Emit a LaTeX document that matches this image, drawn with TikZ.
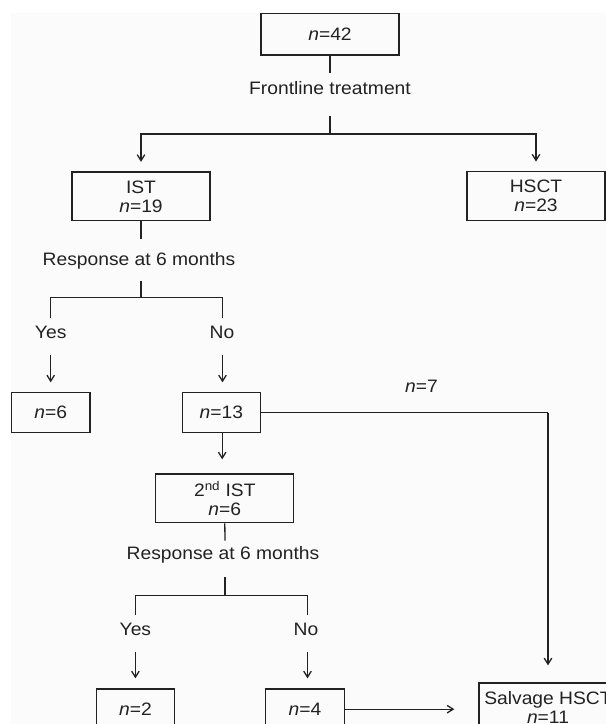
\documentclass[tikz,border=0pt]{standalone}
\usepackage{fontspec}
\setmainfont[FakeStretch=1.07]{Liberation Sans}
\usetikzlibrary{arrows.meta}
\definecolor{ink}{HTML}{222222}
\definecolor{bgc}{HTML}{FBFBFB}
\begin{document}
\begin{tikzpicture}[x=1pt,y=-1pt,
  every node/.style={font=\fontsize{18}{19}\selectfont, text=ink},
  bx/.style={draw=ink, line width=1.3pt, align=center, inner sep=0pt},
  bx1/.style={bx, minimum width=78.5pt, minimum height=40.4pt},
  bx2/.style={bx, minimum width=138pt, minimum height=48.6pt},
  lbl/.style={inner sep=0pt, text height=0.716em, text depth=0pt},
  ln/.style={draw=ink, line width=1.3pt},
  arr/.style={ln, -{Straight Barb[length=6pt,width=7.5pt]}}]
\useasboundingbox (0,0) rectangle (606,724);
\clip (0,0) rectangle (606,724);
\fill[white] (0,0) rectangle (606,724);
\fill[bgc] (11,13) rectangle (606,724);

% boxes
\node[bx, minimum width=138pt, minimum height=41.7pt] (n42) at (330,34.2) {\textit{n}=42};
\node[bx2] (ist) at (141,196.3) {IST\\\textit{n}=19};
\node[bx2] (hsct) at (536,196) {HSCT\\\textit{n}=23};
\node[bx1] (n6) at (50.8,412.5) {\textit{n}=6};
\node[bx1] (n13) at (221.4,412.5) {\textit{n}=13};
\node[bx2] (ist2) at (224.8,498.3) {2\textsuperscript{nd} IST\\\textit{n}=6};
\node[bx1] (n2) at (135.4,709.2) {\textit{n}=2};
\node[bx1] (n4) at (305,709.2) {\textit{n}=4};
\node[bx2] (salv) at (548,707.3) {Salvage HSCT\\\textit{n}=11};

% labels
\node[lbl] (ft) at (330,90.7) {Frontline treatment};
\node[lbl] (r1) at (139,261.7) {Response at 6 months};
\node[lbl] (y1) at (50.7,335) {Yes};
\node[lbl] (no1) at (222,335) {No};
\node[lbl] (n7) at (421.5,389.3) {\textit{n}=7};
\node[lbl] (r2) at (223,555.7) {Response at 6 months};
\node[lbl] (y2) at (135.4,632.3) {Yes};
\node[lbl] (no2) at (306,632.3) {No};

% junction coordinates
\coordinate (ftin) at (330,73);
\coordinate (ftout) at (330,116);
\coordinate (ftsplit) at (330,134);
\coordinate (r1in) at (141,239);
\coordinate (r1out) at (141,280.7);
\coordinate (r1split) at (141,297.7);
\coordinate (y1top) at (50.7,317.7);
\coordinate (no1top) at (222.5,317.7);
\coordinate (y1bot) at (50.7,355);
\coordinate (no1bot) at (222.5,355);
\coordinate (r2in) at (225,540.7);
\coordinate (r2out) at (225,576.7);
\coordinate (r2split) at (225,595.7);
\coordinate (y2top) at (135.4,614.7);
\coordinate (no2top) at (307.5,614.7);
\coordinate (y2bot) at (135.4,651.7);
\coordinate (no2bot) at (307.5,651.7);
\coordinate (corner) at (548,412.7);

% connectors
\draw[ln] (n42.south) -- (ftin);
\draw[ln] (ftout) -- (ftsplit);
\draw[arr, shorten >=9.5pt] (ftsplit) -| (ist.north);
\draw[arr, shorten >=9.5pt] (ftsplit) -| (hsct.north);
\draw[ln] (ist.south) -- (r1in);
\draw[ln] (r1out) -- (r1split);
\draw[ln] (y1top) |- (r1split) -| (no1top);
\draw[arr, shorten >=9.3pt] (y1bot) -- (y1bot |- n6.north);
\draw[arr, shorten >=9.3pt] (no1bot) -- (no1bot |- n13.north);
\draw[arr, shorten >=14pt] ([xshift=0.8pt]n13.south) -- ([xshift=0.8pt]n13.south |- ist2.north);
\draw[ln] (n13.east |- corner) -- (corner);
\draw[arr, shorten >=17pt] (corner) -- (salv.north);
\draw[ln] (ist2.south) -- (r2in);
\draw[ln] (r2out) -- (r2split);
\draw[ln] (y2top) |- (r2split) -| (no2top);
\draw[arr, shorten >=10pt] (y2bot) -- (y2bot |- n2.north);
\draw[arr, shorten >=10pt] (no2bot) -- (no2bot |- n4.north);
\draw[arr, shorten >=24pt] (n4.east) -- (salv.west |- n4.east);
\end{tikzpicture}
\end{document}
